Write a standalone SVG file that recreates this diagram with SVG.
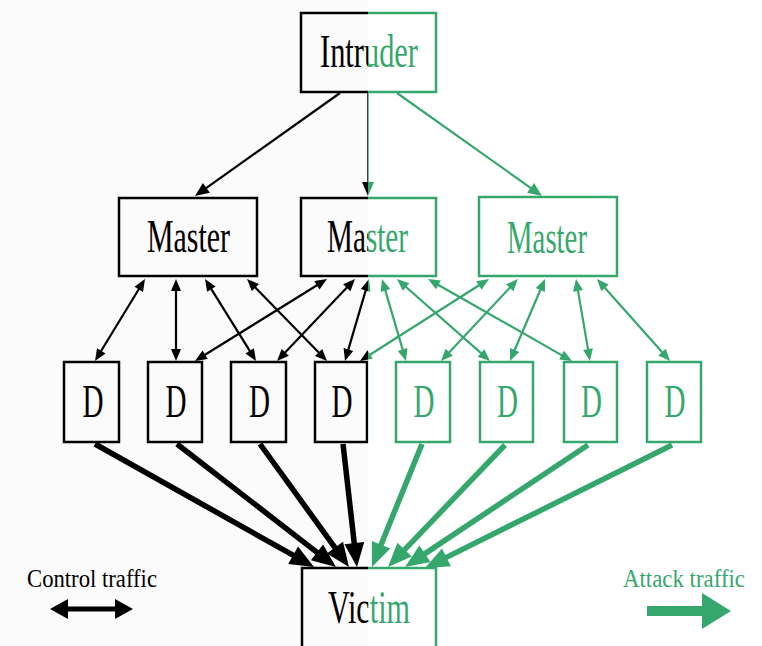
<svg xmlns="http://www.w3.org/2000/svg" width="762" height="646" viewBox="0 0 762 646">
  <defs>
    <!-- left half is drawn in black, right half in green -->
    <linearGradient id="split" gradientUnits="userSpaceOnUse" x1="0" y1="0" x2="762" y2="0">
      <stop offset="0.48294" stop-color="#000000"/>
      <stop offset="0.48294" stop-color="#35a76c"/>
    </linearGradient>
    <style>
      .box { fill: none; stroke: url(#split); stroke-width: 2.5; }
      .lbl { font-family: "Liberation Serif", "Times New Roman", serif; fill: url(#split); text-anchor: middle; }
      .big { font-size: 46px; }
      .leg { font-family: "Liberation Serif", "Times New Roman", serif; font-size: 26px; text-anchor: middle; }
      .ctl { fill: none; stroke: url(#split); stroke-width: 2.2; }
      .thin { fill: none; stroke: url(#split); stroke-width: 1.5; }
      .atk { fill: none; stroke: url(#split); stroke-width: 5.5; }
      .hd { fill: url(#split); stroke: none; }
    </style>
  </defs>

  <!-- backdrop: pale grey on the left, white on the right -->
  <rect x="0" y="0" width="368" height="646" fill="#fbfbfb"/>
  <rect x="368" y="0" width="394" height="646" fill="#ffffff"/>

  <g id="connectors">
    <!-- intruder to masters -->
    <line class="ctl" x1="340" y1="93" x2="204" y2="189.6"/>
    <polygon class="hd" points="195,196 202.9,183 209.9,192.8"/>
    <line class="thin" x1="368" y1="93" x2="368" y2="185"/>
    <polygon class="hd" points="368,196 362,182 374,182"/>
    <line class="ctl" x1="397" y1="93" x2="533" y2="189.6"/>
    <polygon class="hd" points="542,196 527.1,192.8 534.1,183"/>

    <!-- control traffic: masters to daemons -->
    <line class="ctl" x1="140.3" y1="286.7" x2="99.7" y2="353.3"/>
    <polygon class="hd" points="145,279 134.5,286.7 143,291.9"/>
    <polygon class="hd" points="95,361 97,348.2 105.5,353.4"/>

    <line class="ctl" x1="176" y1="288" x2="176" y2="352"/>
    <polygon class="hd" points="176,279 171,291 181,291"/>
    <polygon class="hd" points="176,361 171,349 181,349"/>

    <line class="ctl" x1="209.8" y1="286.6" x2="251.3" y2="353.4"/>
    <polygon class="hd" points="205,279 207.1,291.8 215.6,286.6"/>
    <polygon class="hd" points="256,361 245.4,353.5 253.9,348.2"/>

    <line class="ctl" x1="253.3" y1="285.4" x2="320.7" y2="354.6"/>
    <polygon class="hd" points="247,279 251.8,291.1 259,284.1"/>
    <polygon class="hd" points="327,361 315,355.9 322.2,348.9"/>

    <line class="ctl" x1="319.4" y1="283.8" x2="202.6" y2="356.3"/>
    <polygon class="hd" points="327,279 314.2,281.1 319.5,289.6"/>
    <polygon class="hd" points="195,361 202.6,350.4 207.8,358.9"/>

    <line class="ctl" x1="348.8" y1="285.5" x2="283.2" y2="354.5"/>
    <polygon class="hd" points="355,279 343.1,284.3 350.4,291.2"/>
    <polygon class="hd" points="277,361 281.7,348.9 288.9,355.8"/>

    <line class="ctl" x1="366.5" y1="287.6" x2="347.5" y2="352.4"/>
    <polygon class="hd" points="369,279 360.8,289.1 370.4,291.9"/>
    <polygon class="hd" points="345,361 343.6,348.1 353.2,350.9"/>

    <line class="ctl" x1="384.5" y1="287.6" x2="403.5" y2="352.4"/>
    <polygon class="hd" points="382,279 380.6,291.9 390.2,289.1"/>
    <polygon class="hd" points="406,361 397.8,350.9 407.4,348.1"/>

    <line class="ctl" x1="403.8" y1="285" x2="483.3" y2="355.1"/>
    <polygon class="hd" points="397,279 402.7,290.7 409.3,283.2"/>
    <polygon class="hd" points="490,361 477.7,356.8 484.3,349.3"/>

    <line class="ctl" x1="435.8" y1="283.5" x2="564.2" y2="356.6"/>
    <polygon class="hd" points="428,279 436,289.3 440.9,280.6"/>
    <polygon class="hd" points="572,361 559.1,359.4 564,350.7"/>

    <line class="ctl" x1="481.4" y1="283.8" x2="367.6" y2="356.2"/>
    <polygon class="hd" points="489,279 476.2,281.2 481.6,289.7"/>
    <polygon class="hd" points="360,361 367.5,350.3 372.8,358.8"/>

    <line class="ctl" x1="511.8" y1="285.6" x2="447.2" y2="354.4"/>
    <polygon class="hd" points="518,279 506.1,284.3 513.4,291.2"/>
    <polygon class="hd" points="441,361 445.6,348.8 452.9,355.7"/>

    <line class="ctl" x1="541.5" y1="287.3" x2="513.5" y2="352.7"/>
    <polygon class="hd" points="545,279 535.7,288.1 544.9,292"/>
    <polygon class="hd" points="510,361 510.1,348 519.3,351.9"/>

    <line class="ctl" x1="577.5" y1="287.9" x2="588.5" y2="352.1"/>
    <polygon class="hd" points="576,279 573.1,291.7 583,290"/>
    <polygon class="hd" points="590,361 583.1,350 592.9,348.3"/>

    <line class="ctl" x1="603" y1="285.7" x2="664" y2="354.3"/>
    <polygon class="hd" points="597,279 601.3,291.3 608.7,284.6"/>
    <polygon class="hd" points="670,361 658.3,355.4 665.8,348.7"/>

    <!-- attack traffic: daemons to victim -->
    <line class="atk" x1="95" y1="444" x2="296.6" y2="557.2"/>
    <polygon class="hd" points="314,567 288.2,564 298,546.5"/>
    <line class="atk" x1="177" y1="444" x2="320.2" y2="554.8"/>
    <polygon class="hd" points="336,567 310.9,560.2 323.1,544.4"/>
    <line class="atk" x1="260" y1="444" x2="337.3" y2="550.8"/>
    <polygon class="hd" points="349,567 326.8,553.4 343,541.7"/>
    <line class="atk" x1="343" y1="444" x2="354.7" y2="547.1"/>
    <polygon class="hd" points="357,567 344.4,544.3 364.2,542"/>
    <line class="atk" x1="422" y1="444" x2="379.5" y2="548.5"/>
    <polygon class="hd" points="372,567 371.8,541 390.3,548.5"/>
    <line class="atk" x1="505" y1="445" x2="401.8" y2="552.6"/>
    <polygon class="hd" points="388,567 397.4,542.8 411.8,556.6"/>
    <line class="atk" x1="588" y1="445" x2="421.6" y2="555.9"/>
    <polygon class="hd" points="405,567 419.4,545.4 430.5,562"/>
    <line class="atk" x1="672" y1="445" x2="442.9" y2="559.1"/>
    <polygon class="hd" points="425,568 442,548.4 450.9,566.3"/>
  </g>

  <g id="intruder">
    <rect class="box" x="301" y="13" width="135" height="79"/>
    <text class="lbl big" x="369" y="67" textLength="98" lengthAdjust="spacingAndGlyphs">Intruder</text>
  </g>

  <g id="master-1">
    <rect class="box" x="119" y="198" width="138" height="78"/>
    <text class="lbl big" x="188.5" y="252" textLength="83" lengthAdjust="spacingAndGlyphs">Master</text>
  </g>
  <g id="master-2">
    <rect class="box" x="301" y="198" width="135" height="78"/>
    <text class="lbl big" x="367.5" y="252" textLength="81" lengthAdjust="spacingAndGlyphs">Master</text>
  </g>
  <g id="master-3">
    <rect class="box" x="479" y="197" width="138" height="79"/>
    <text class="lbl big" x="547" y="253" textLength="80" lengthAdjust="spacingAndGlyphs">Master</text>
  </g>

  <g id="daemon-1">
    <rect class="box" x="64" y="362" width="55" height="80"/>
    <text class="lbl big" x="93" y="417" textLength="21" lengthAdjust="spacingAndGlyphs">D</text>
  </g>
  <g id="daemon-2">
    <rect class="box" x="148" y="362" width="54" height="80"/>
    <text class="lbl big" x="176" y="417" textLength="21" lengthAdjust="spacingAndGlyphs">D</text>
  </g>
  <g id="daemon-3">
    <rect class="box" x="231" y="362" width="55" height="80"/>
    <text class="lbl big" x="259.5" y="417" textLength="21" lengthAdjust="spacingAndGlyphs">D</text>
  </g>
  <g id="daemon-4">
    <rect class="box" x="315" y="362" width="52" height="80"/>
    <text class="lbl big" x="342" y="417" textLength="21" lengthAdjust="spacingAndGlyphs">D</text>
  </g>
  <g id="daemon-5">
    <rect class="box" x="396" y="362" width="54" height="80"/>
    <text class="lbl big" x="424" y="417" textLength="21" lengthAdjust="spacingAndGlyphs">D</text>
  </g>
  <g id="daemon-6">
    <rect class="box" x="480" y="362" width="53" height="80"/>
    <text class="lbl big" x="507.5" y="417" textLength="21" lengthAdjust="spacingAndGlyphs">D</text>
  </g>
  <g id="daemon-7">
    <rect class="box" x="564" y="362" width="53" height="80"/>
    <text class="lbl big" x="591.5" y="417" textLength="21" lengthAdjust="spacingAndGlyphs">D</text>
  </g>
  <g id="daemon-8">
    <rect class="box" x="647" y="362" width="54" height="80"/>
    <text class="lbl big" x="675" y="417" textLength="21" lengthAdjust="spacingAndGlyphs">D</text>
  </g>

  <g id="victim">
    <rect class="box" x="302" y="568" width="134" height="90"/>
    <text class="lbl big" x="369" y="623" textLength="82" lengthAdjust="spacingAndGlyphs">Victim</text>
  </g>

  <g id="legend">
    <text class="leg" x="92" y="587" fill="#000000" textLength="130" lengthAdjust="spacingAndGlyphs">Control traffic</text>
    <line x1="64" y1="609" x2="119" y2="609" stroke="#000" stroke-width="5"/>
    <polygon class="hd" points="50,609 68,599 68,619"/>
    <polygon class="hd" points="133,609 115,599 115,619"/>

    <text class="leg" x="684" y="587" fill="#35a76c" textLength="122" lengthAdjust="spacingAndGlyphs">Attack traffic</text>
    <line x1="647" y1="611" x2="706" y2="611" stroke="#35a76c" stroke-width="10"/>
    <polygon class="hd" points="731,611 702,593 702,629"/>
  </g>
</svg>
